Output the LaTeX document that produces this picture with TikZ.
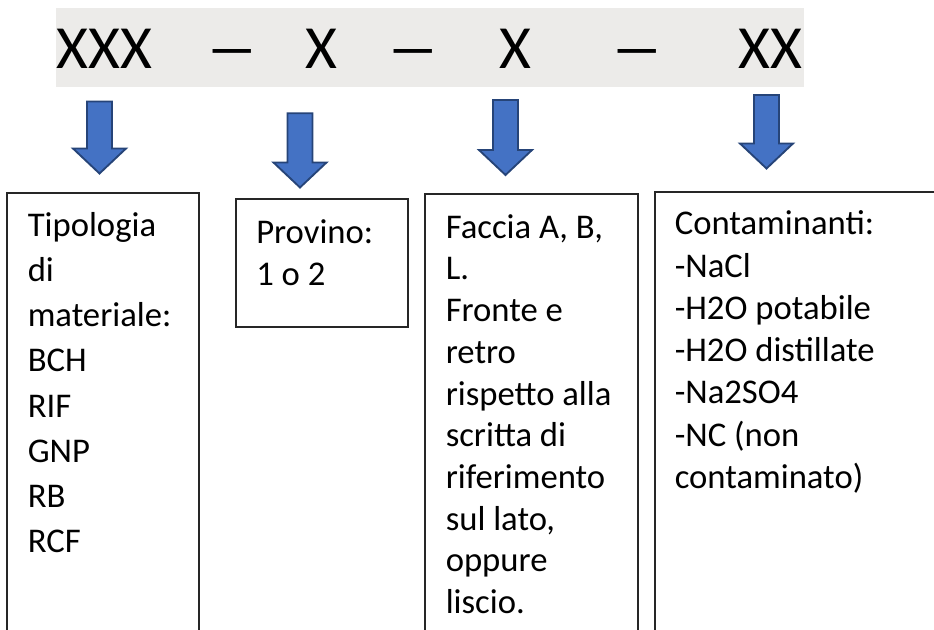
\documentclass[tikz,border=0pt]{standalone}
\usepackage{fontspec}
\setmainfont{Carlito}
\usetikzlibrary{positioning}
\definecolor{bandgray}{RGB}{236,235,233}
\definecolor{arrowfill}{RGB}{68,114,196}
\definecolor{arrowline}{RGB}{38,68,120}

\begin{document}
\begin{tikzpicture}[x=0.75pt,y=-0.75pt,
  code/.style={font=\fontsize{46}{50}\selectfont,inner sep=0pt,anchor=base west},
  entry/.style={font=\fontsize{26}{30}\selectfont,inner sep=0pt,anchor=base west},
  box/.style={draw=black!85,line width=1.1pt},
  blockarrow/.style={fill=arrowfill,draw=arrowline,line width=1.4pt,line join=miter}]
  \useasboundingbox (0,0) rectangle (934,630);
  \clip (0,0) rectangle (934,630);

  % code line on grey band
  \fill[bandgray] (56,8.3) rectangle (804,86.7);
  \node[code] (mat)  at (56.5,68.3)  {XXX};
  \node[code] (sep1) at (205,68.3)   {\scalebox{1.75}[1]{–}};
  \node[code] (prov) at (305.5,68.3) {X};
  \node[code] (sep2) at (386,68.3)   {\scalebox{1.75}[1]{–}};
  \node[code] (fac)  at (499,68.3)   {X};
  \node[code] (sep3) at (610,68.3)   {\scalebox{1.75}[1]{–}};
  \node[code] (cont) at (738,68.3)   {XX};

  % block arrows
  \foreach \cx/\yt/\yb in {99.5/101.5/173.5, 300/113.3/187.5, 505.5/100/175, 766.5/95/168.5}
    \draw[blockarrow] (\cx-12.5,\yt) -- (\cx+12.5,\yt) -- (\cx+12.5,\yb-25) -- (\cx+26.5,\yb-25)
      -- (\cx,\yb) -- (\cx-26.5,\yb-25) -- (\cx-12.5,\yb-25) -- cycle;

  % boxes
  \draw[box] (7,193) rectangle (199,645);
  \draw[box] (236,199) rectangle (408,327);
  \draw[box] (425,194) rectangle (638,645);
  \draw[box] (655,192) rectangle (945,645);

  \foreach \t [count=\i] in {Tipologia, di, materiale:, BCH, RIF, GNP, RB, RCF}
    \node[entry] (tipo-\i) at (27.5,236.7+45.1*\i-45.1) {\t};
  \foreach \t [count=\i] in {Provino:, 1 o 2}
    \node[entry] (prov-\i) at (256,243.3+42.7*\i-42.7) {\t};
  \foreach \t [count=\i] in {{Faccia A, B,}, L., Fronte e, retro, rispetto alla, scritta di,
      riferimento, {sul lato,}, oppure, liscio.}
    \node[entry] (fac-\i) at (445.5,238.3+41.7*\i-41.7) {\t};
  \foreach \t [count=\i] in {Contaminanti:, -NaCl, -H2O potabile, -H2O distillate, -Na2SO4,
      -NC (non, contaminato)}
    \node[entry] (cont-\i) at (674.5,235+42.2*\i-42.2) {\t};
\end{tikzpicture}
\end{document}
